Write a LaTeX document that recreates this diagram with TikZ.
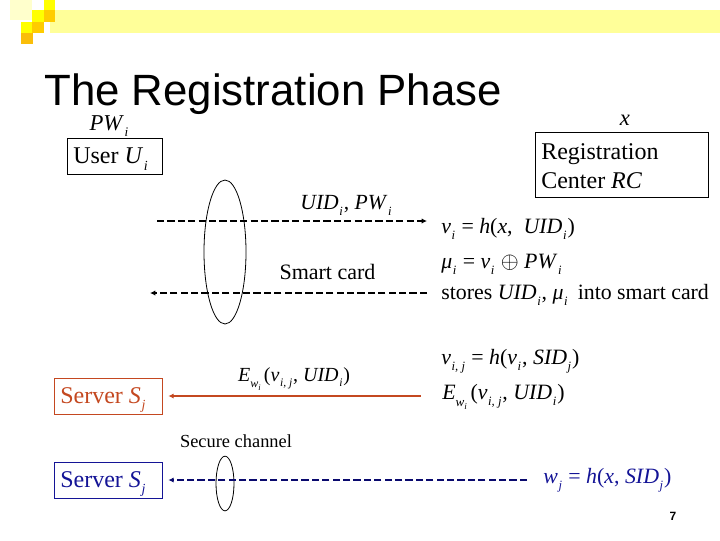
\documentclass[tikz,border=0pt]{standalone}
\usepackage{fontspec}
\setmainfont{Liberation Serif}
\newfontfamily\titlefont{Liberation Sans}
\usetikzlibrary{shapes.geometric,arrows.meta}
\definecolor{redline}{RGB}{196,72,32}
\definecolor{blueline}{RGB}{20,20,150}
\definecolor{navydash}{RGB}{10,10,110}
\definecolor{bandyellow}{RGB}{255,255,153}
\definecolor{gold}{RGB}{255,204,0}
\definecolor{golddark}{RGB}{250,190,10}
\definecolor{brightyellow}{RGB}{255,255,0}
\definecolor{paleyellow}{RGB}{255,255,204}
\newcommand{\sbs}[1]{\hspace{0.03em}\raisebox{-0.28em}{\scalebox{0.58}{\textit{#1}}}\hspace{0.04em}}
\newcommand{\encsub}{\raisebox{-0.32em}{\scalebox{0.6}{\textit{w}\raisebox{-0.28em}{\scalebox{0.7}{\textit{i}}}}}}
\tikzset{
  formula/.style={anchor=west,inner sep=0pt,font=\fontsize{16.4pt}{20pt}\selectfont},
  tip/.style={-{Latex[length=4pt,width=4pt]}},
  flow/.style={tip,dash pattern=on 5.4pt off 2.4pt,line width=1.1pt},
  oval/.style={draw,ellipse,line width=0.6pt,inner sep=0pt}
}
\begin{document}
\begin{tikzpicture}[x=0.75pt,y=-0.75pt]
  \useasboundingbox (0,0) rectangle (720,540);
  % header band and squares
  \fill[bandyellow] (50,10) rectangle (720,33);
  \fill[paleyellow] (10,0) rectangle (32,20);
  \fill[brightyellow] (44,0) rectangle (55,10);
  \fill[brightyellow] (32,10) rectangle (44,22);
  \fill[gold] (44,10) rectangle (55,22);
  \fill[brightyellow] (21,22) rectangle (32,33);
  \fill[gold] (32,22) rectangle (44,33);
  \fill[golddark] (21,33) rectangle (33,44);
  \node[anchor=west,inner sep=0pt,font=\titlefont\fontsize{32.85pt}{38pt}\selectfont] (title) at (44,94) {The Registration Phase};
  % parties
  \draw[line width=0.6pt] (67,138) rectangle (162,174);
  \node[anchor=west,inner sep=0pt,font=\fontsize{18pt}{22pt}\selectfont] (user) at (73,159) {User \textit{U}\sbs{i}};
  \node[draw,line width=0.6pt,minimum width=129.75pt,minimum height=48.75pt,inner sep=0pt] (rcbox) at (621.5,164.5) {};
  \node[anchor=west,inner sep=0pt,align=left,font=\fontsize{18pt}{21.6pt}\selectfont] (rc) at (541,166) {Registration\\Center \textit{RC}};
  \node[draw=redline,line width=0.6pt,minimum width=81pt,minimum height=27pt,inner sep=0pt] (serverred) at (108,396) {};
  \node[anchor=west,inner sep=0pt,text=redline,font=\fontsize{18pt}{22pt}\selectfont] (serverredtxt) at (60,400) {Server \textit{S}\sbs{j}};
  \node[draw=blueline,line width=0.6pt,minimum width=81pt,minimum height=27pt,inner sep=0pt] (serverblue) at (108,480) {};
  \node[anchor=west,inner sep=0pt,text=blueline,font=\fontsize{18pt}{22pt}\selectfont] (serverbluetxt) at (60,484) {Server \textit{S}\sbs{j}};
  % secrets
  \node[inner sep=0pt,font=\fontsize{17pt}{20pt}\selectfont] (pw) at (109,126) {\textit{PW}\sbs{i}};
  \node[inner sep=0pt,font=\fontsize{17pt}{20pt}\selectfont] (x) at (625,120) {\textit{x}};
  % computations
  \node[formula] (vi) at (441,229) {\textit{v}\sbs{i} = \textit{h}(\textit{x}, \ \textit{UID}\sbs{i})};
  \node[formula] (mu) at (441,264) {\textit{μ}\sbs{i} = \textit{v}\sbs{i} $\oplus$ \textit{PW}\sbs{i}};
  \node[formula] (stores) at (441,295) {stores \textit{UID}\sbs{i}, \textit{μ}\sbs{i} \,into smart card};
  \node[formula] (vij) at (441,361) {\textit{v}\sbs{i, j} = \textit{h}(\textit{v}\sbs{i}, \textit{SID}\sbs{j})};
  \node[formula] (enc) at (442,397) {\textit{E}\encsub\,(\textit{v}\sbs{i, j}, \textit{UID}\sbs{i})};
  \node[formula,text=blueline] (wj) at (543,480) {\textit{w}\sbs{j} = \textit{h}(\textit{x}, \textit{SID}\sbs{j})};
  % labels on the lines
  \node[inner sep=0pt,font=\fontsize{16.2pt}{20pt}\selectfont] (uidpw) at (346,205) {\textit{UID}\sbs{i}, \textit{PW}\sbs{i}};
  \node[inner sep=0pt,font=\fontsize{16.5pt}{20pt}\selectfont] (card) at (327.5,272) {Smart card};
  \node[inner sep=0pt,font=\fontsize{15pt}{20pt}\selectfont] (encmsg) at (294,379) {\textit{E}\encsub\,(\textit{v}\sbs{i, j}, \textit{UID}\sbs{i})};
  \node[inner sep=0pt,font=\fontsize{13.8pt}{16pt}\selectfont] (secure) at (236,441) {Secure channel};
  % channels
  \node[oval,minimum width=31.5pt,minimum height=108pt] (cardoval) at (225,252) {};
  \node[oval,minimum width=13.5pt,minimum height=41pt] (secureoval) at (225,483.5) {};
  \coordinate (topleft) at (157,221);
  \coordinate (topright) at (427,221);
  \coordinate (lowleft) at (150,293);
  \coordinate (lowright) at (427,293);
  \draw[flow] (topleft) -- (topright);
  \draw[flow] (lowright) -- (lowleft);
  \draw[tip,redline,line width=1.4pt,shorten <=16pt,shorten >=4.5pt] (enc.west |- serverred.east) -- (serverred.east);
  \draw[flow,navydash,shorten <=12pt,shorten >=4.5pt] (wj.west |- serverblue.east) -- (serverblue.east);
  % page number
  \node[inner sep=0pt,font=\titlefont\bfseries\fontsize{9pt}{10pt}\selectfont] (pagenum) at (673,516) {7};
\end{tikzpicture}
\end{document}
